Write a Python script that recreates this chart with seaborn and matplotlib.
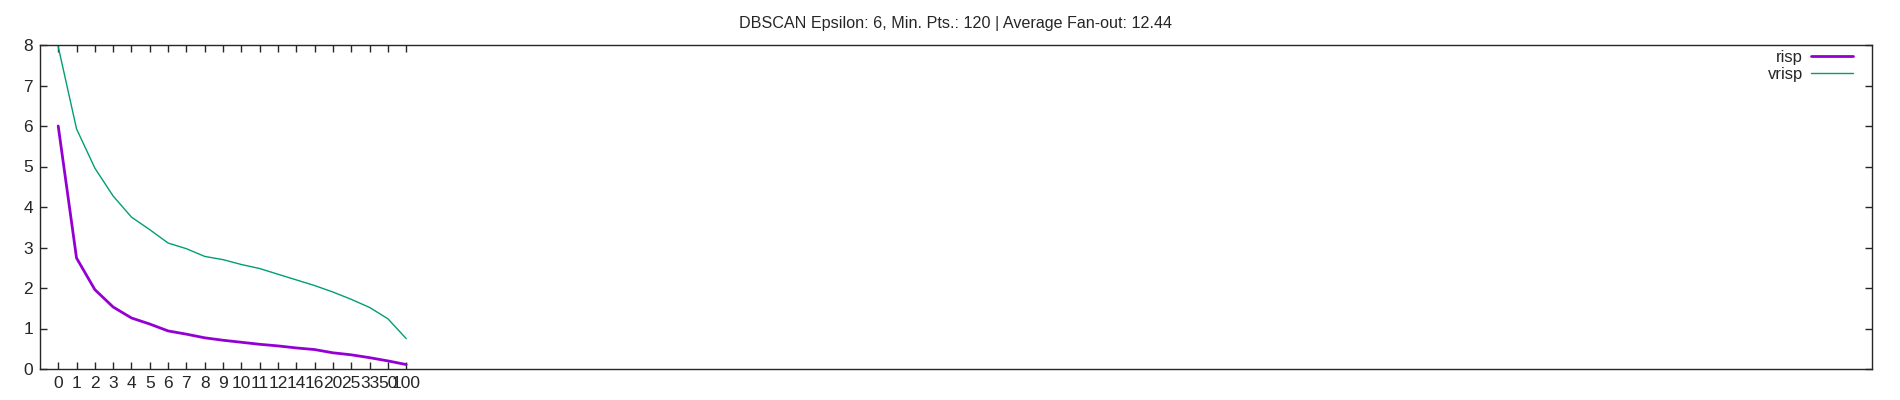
import pandas as pd
import numpy as np
import matplotlib
matplotlib.use('Agg')
import matplotlib.pyplot as plt
import seaborn as sns

# fan-out buckets (categorical x axis)
buckets = ['0', '1', '2', '3', '4', '5', '6', '7', '8', '9', '10', '11', '12',
           '14', '16', '20', '25', '33', '50', '100']
risp = [6.0, 2.74, 1.96, 1.53, 1.26, 1.11, 0.94, 0.86, 0.77, 0.71, 0.66,
        0.61, 0.57, 0.52, 0.48, 0.40, 0.35, 0.28, 0.20, 0.11]
vrisp = [7.96, 5.93, 4.96, 4.27, 3.75, 3.44, 3.11, 2.97, 2.78, 2.70, 2.58,
         2.48, 2.34, 2.20, 2.06, 1.90, 1.72, 1.52, 1.24, 0.75]

sns.set_style('ticks')
plt.rcParams['font.family'] = ['Liberation Sans', 'DejaVu Sans']

df = pd.DataFrame({'idx': list(range(len(buckets))) * 2,
                   'value': risp + vrisp,
                   'series': ['risp'] * len(risp) + ['vrisp'] * len(vrisp)})

fig = plt.figure(figsize=(19, 4), dpi=100)
ax = fig.add_axes([0.021, 0.0775, 0.964, 0.81])

sns.lineplot(data=df, x='idx', y='value', hue='series', size='series',
             sizes={'risp': 2.0, 'vrisp': 1.0},
             palette={'risp': '#9400D3', 'vrisp': '#009E73'}, ax=ax)

ax.set_xlim(-1, 99)
ax.set_ylim(0, 8)
ax.set_xticks(range(len(buckets)))
ax.set_xticklabels(buckets)
ax.set_yticks(range(0, 9))
ax.tick_params(direction='in', top=True, right=True, length=5, width=1,
               labelsize=12.5, pad=5)
for s in ax.spines.values():
    s.set_linewidth(1)
    s.set_visible(True)
ax.set_xlabel('')
ax.set_ylabel('')
ax.set_title('DBSCAN Epsilon: 6, Min. Pts.: 120 | Average Fan-out: 12.44',
             fontsize=11.6, pad=12)

h, l = ax.get_legend_handles_labels()
ax.legend(h, l, loc='upper right', bbox_to_anchor=(0.9898, 0.985),
          frameon=False, markerfirst=False, fontsize=12, handlelength=2.5,
          labelspacing=0.1, borderaxespad=0, borderpad=0, handletextpad=0.5)

fig.savefig('out.png', dpi=100)
